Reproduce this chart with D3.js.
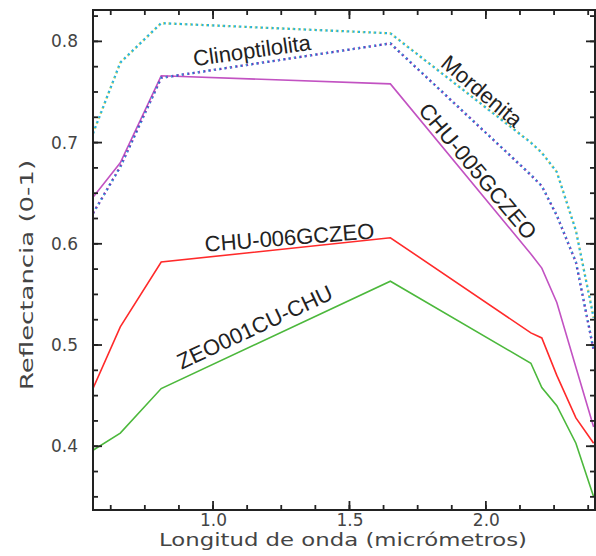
<!DOCTYPE html>
<html>
<head>
<meta charset="utf-8">
<script src="https://cdn.jsdelivr.net/npm/d3@7"></script>
<style>
  body { margin: 0; background: #fff; }
  svg { display: block; }
</style>
</head>
<body>
<svg></svg>
<script>
// band centres (micrometres) and reflectance
let wavelengths = [0.56, 0.66, 0.81, 1.65, 2.165, 2.205, 2.26, 2.33, 2.395]
let mordenita = [0.709, 0.779, 0.818, 0.808, 0.700, 0.690, 0.671, 0.613, 0.527]
let clinoptilolita = [0.630, 0.676, 0.764, 0.798, 0.668, 0.657, 0.628, 0.582, 0.495]
let chu005 = [0.646, 0.680, 0.766, 0.758, 0.590, 0.576, 0.542, 0.478, 0.419]
let chu006 = [0.457, 0.518, 0.582, 0.606, 0.512, 0.507, 0.470, 0.428, 0.403]
let zeo001 = [0.396, 0.413, 0.457, 0.563, 0.482, 0.458, 0.440, 0.403, 0.350]

let xTicks = [1.0, 1.5, 2.0]
let xTickLabels = ['1.0', '1.5', '2.0']
let yTicks = [0.4, 0.5, 0.6, 0.7, 0.8]
let yTickLabels = ['0.4', '0.5', '0.6', '0.7', '0.8']

let width = 596
let height = 556
let plotLeft = 93, plotRight = 595, plotTop = 10, plotBottom = 510

let svg = d3.select('svg')
let xScale, yScale

let drawCanvas = () => {
    svg.attr('width', width)
       .attr('height', height)
    svg.append('defs').append('clipPath')
       .attr('id', 'plotclip')
       .append('rect')
       .attr('x', plotLeft).attr('y', plotTop)
       .attr('width', plotRight - plotLeft).attr('height', plotBottom - plotTop)
}

let generateScales = () => {
    xScale = d3.scaleLinear().domain([0.56, 2.40]).range([plotLeft, plotRight])
    yScale = d3.scaleLinear().domain([0.337, 0.831]).range([plotBottom, plotTop])
}

let generateAxis = () => {
    // tick labels from d3 axes
    let xAxis = d3.axisBottom(xScale).tickValues(xTicks).tickFormat((d, i) => xTickLabels[i]).tickSize(0).tickPadding(4)
    let yAxis = d3.axisLeft(yScale).tickValues(yTicks).tickFormat((d, i) => yTickLabels[i]).tickSize(0).tickPadding(15)
    let gx = svg.append('g').attr('id', 'x-axis').attr('transform', 'translate(0,' + plotBottom + ')').call(xAxis)
    let gy = svg.append('g').attr('id', 'y-axis').attr('transform', 'translate(' + plotLeft + ',0)').call(yAxis)
    ;[gx, gy].forEach(g => {
        g.select('.domain').remove()
        g.selectAll('text')
         .attr('fill', '#444')
         .style('font-family', 'DejaVu Sans')
         .style('font-size', '17px')
    })

    svg.append('text')
       .attr('x', (plotLeft + plotRight) / 2 - 1)
       .attr('y', 546)
       .attr('text-anchor', 'middle')
       .attr('textLength', 368)
       .attr('lengthAdjust', 'spacingAndGlyphs')
       .attr('fill', '#444')
       .style('font-family', 'DejaVu Sans')
       .style('font-size', '17px')
       .text('Longitud de onda (micrómetros)')

    svg.append('text')
       .attr('transform', 'translate(33,275) rotate(-90)')
       .attr('text-anchor', 'middle')
       .attr('textLength', 230)
       .attr('lengthAdjust', 'spacingAndGlyphs')
       .attr('fill', '#444')
       .style('font-family', 'DejaVu Sans')
       .style('font-size', '18px')
       .text('Reflectancia (0-1)')
}

let generateTicks = () => {
    // inward ticks on all four sides: long at labelled values, short in between
    let xAll = d3.range(0.625, 2.40, 0.125).map(v => [v, 5]).concat(xTicks.map(v => [v, 9]))
    let yAll = d3.range(0.35, 0.831, 0.025).map(v => [v, 5]).concat(yTicks.map(v => [v, 9]))
    let ticks = svg.append('g').attr('stroke', '#222').attr('stroke-width', 1.8)

    ticks.selectAll('.xb').data(xAll).enter().append('line').attr('class', 'xb')
         .attr('x1', d => xScale(d[0])).attr('x2', d => xScale(d[0]))
         .attr('y1', plotBottom).attr('y2', d => plotBottom - d[1])
    ticks.selectAll('.xt').data(xAll).enter().append('line').attr('class', 'xt')
         .attr('x1', d => xScale(d[0])).attr('x2', d => xScale(d[0]))
         .attr('y1', plotTop).attr('y2', d => plotTop + d[1])
    ticks.selectAll('.yl').data(yAll).enter().append('line').attr('class', 'yl')
         .attr('y1', d => yScale(d[0])).attr('y2', d => yScale(d[0]))
         .attr('x1', plotLeft).attr('x2', d => plotLeft + d[1])
    ticks.selectAll('.yr').data(yAll).enter().append('line').attr('class', 'yr')
         .attr('y1', d => yScale(d[0])).attr('y2', d => yScale(d[0]))
         .attr('x1', plotRight).attr('x2', d => plotRight - d[1])

    svg.append('rect')
       .attr('x', plotLeft).attr('y', plotTop)
       .attr('width', plotRight - plotLeft).attr('height', plotBottom - plotTop)
       .attr('fill', 'none')
       .attr('stroke', '#222')
       .attr('stroke-width', 2)
}

let generateLines = () => {
    let line = d3.line()
                 .x((d, i) => xScale(wavelengths[i]))
                 .y(d => yScale(d))

    let plot = svg.append('g').attr('clip-path', 'url(#plotclip)')

    let solid = [[zeo001, '#4cb83c'], [chu006, '#ff2a2a'], [chu005, '#c252c2']]
    solid.forEach(s => {
        plot.append('path')
            .datum(s[0])
            .attr('d', line)
            .attr('fill', 'none')
            .attr('stroke', s[1])
            .attr('stroke-width', 1.6)
    })

    // dotted spectra drawn as dots with coloured fringes
    let dotted = [
        [clinoptilolita, [['#3434b4', '2.2 3.2', 0], ['#3cb4e4', '0.9 4.5', 0], ['#c050c0', '0.7 4.7', -1.5]]],
        [mordenita, [['#28b4dc', '2.4 3', 0], ['#e8d848', '0.8 4.6', 0.4]]]
    ]
    dotted.forEach(s => {
        s[1].forEach(c => {
            plot.append('path')
                .datum(s[0])
                .attr('d', line)
                .attr('fill', 'none')
                .attr('stroke', c[0])
                .attr('stroke-width', 2.3)
                .attr('stroke-dasharray', c[1])
                .attr('stroke-dashoffset', c[2])
        })
    })
}

let generateLabels = () => {
    let labels = [
        ['Clinoptilolita', 253, 58, -8],
        ['Mordenita', 477, 97, 40],
        ['CHU-005GCZEO', 472, 176, 50],
        ['CHU-006GCZEO', 290, 245, -4.5],
        ['ZEO001CU-CHU', 258, 334, -25]
    ]
    svg.selectAll('.label')
       .data(labels)
       .enter()
       .append('text')
       .attr('class', 'label')
       .attr('transform', d => 'translate(' + d[1] + ',' + d[2] + ') rotate(' + d[3] + ')')
       .attr('text-anchor', 'middle')
       .attr('fill', '#222')
       .style('font-family', 'Liberation Sans, Arial, sans-serif')
       .style('font-size', '22px')
       .text(d => d[0])
}

drawCanvas()
generateScales()
generateAxis()
generateLines()
generateTicks()
generateLabels()
</script>
</body>
</html>
